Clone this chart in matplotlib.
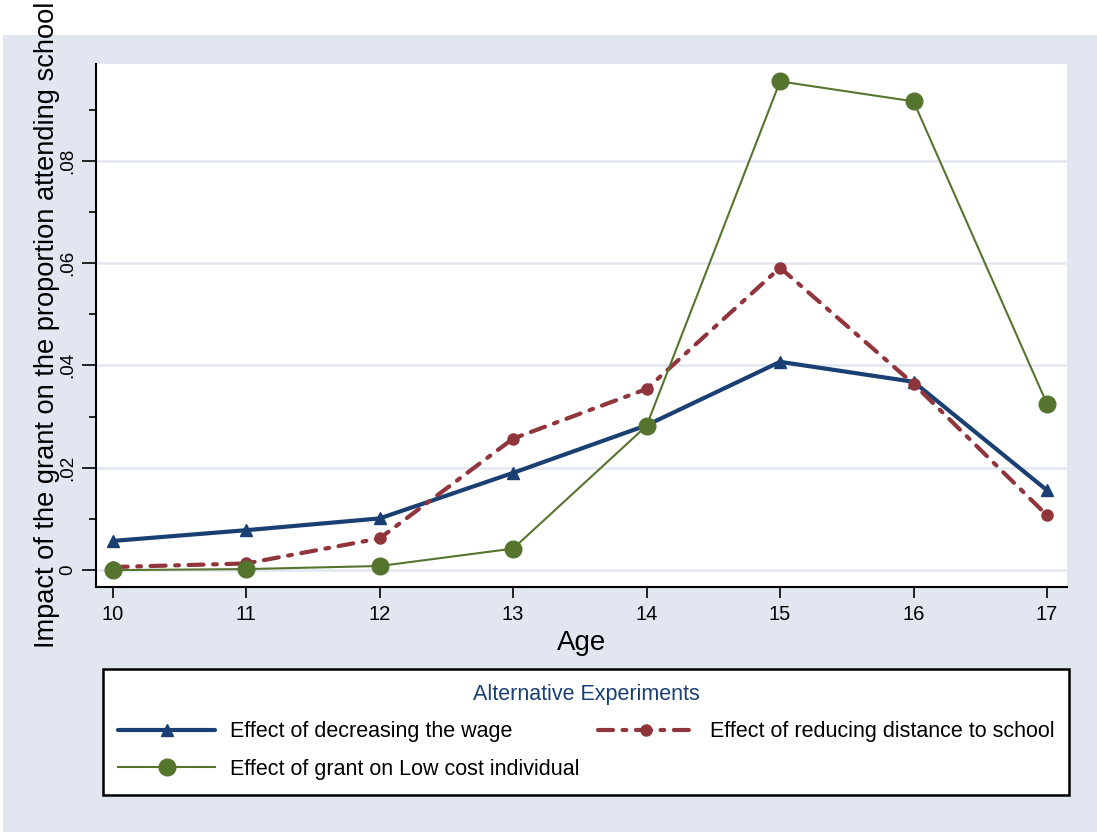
import matplotlib
matplotlib.use("Agg")
import matplotlib.pyplot as plt
from matplotlib.patches import Rectangle

plt.rcParams['font.family'] = ['Liberation Sans', 'DejaVu Sans']

ages = [10, 11, 12, 13, 14, 15, 16, 17]
wage = [0.0057, 0.0078, 0.0101, 0.0190, 0.0283, 0.0407, 0.0368, 0.0156]
distance = [0.0006, 0.0013, 0.0062, 0.0257, 0.0354, 0.0591, 0.0364, 0.0107]
lowcost = [0.0000, 0.0002, 0.0008, 0.0042, 0.0282, 0.0955, 0.0916, 0.0325]

yticks = [0, 0.02, 0.04, 0.06, 0.08]
ytick_labels = ["0", ".02", ".04", ".06", ".08"]
yminor = [0.01, 0.03, 0.05, 0.07, 0.09]

labels = ["Effect of decreasing the wage",
          "Effect of reducing distance to school",
          "Effect of grant on Low cost individual"]
legend_title = "Alternative Experiments"
xlabel = "Age"
ylabel = "Impact of the grant on the proportion attending school"

BG = "#e1e6f0"
NAVY = "#1a3f73"
MAROON = "#90353b"
GREEN = "#55752f"

W, H = 1097, 832
fig = plt.figure(figsize=(W / 100, H / 100), dpi=100)
fig.patch.set_facecolor("white")
fig.add_artist(Rectangle((3 / W, 0), 1, (H - 35) / H, transform=fig.transFigure,
                         facecolor=BG, edgecolor="none", zorder=-10))

ax = fig.add_axes([96 / W, (H - 587) / H, (1067 - 96) / W, (587 - 64) / H])
ax.set_facecolor("white")

l1, = ax.plot(ages, wage, color=NAVY, lw=3, marker="^", ms=8,
              solid_capstyle="round", zorder=4)
l2, = ax.plot(ages, distance, color=MAROON, lw=3, marker="o", ms=8,
              dashes=(3.6, 2.3, 0.9, 2.3), dash_capstyle="round", zorder=5)
l3, = ax.plot(ages, lowcost, color=GREEN, lw=1.5, marker="o", ms=12, zorder=6)

ax.set_xlim(9.875, 17.15)
ax.set_ylim(-0.0033, 0.0989)

for s in ["top", "right"]:
    ax.spines[s].set_visible(False)
for s in ["left", "bottom"]:
    ax.spines[s].set_linewidth(1.5)
    ax.spines[s].set_color("black")

ax.set_xticks(ages)
ax.set_xticklabels([str(a) for a in ages], fontsize=14.5)
ax.tick_params(axis="x", length=8, width=1.2, pad=5)

ax.set_yticks(yticks)
ax.set_yticklabels(ytick_labels, fontsize=13.5, rotation=90, va="center")
ax.set_yticks(yminor, minor=True)
ax.tick_params(axis="y", which="major", length=10, width=1.2, pad=4)
ax.tick_params(axis="y", which="minor", length=5, width=1.2)

ax.yaxis.grid(True, which="major", color=BG, lw=1.8, zorder=0)
ax.set_axisbelow(True)

ax.set_xlabel(xlabel, fontsize=20, labelpad=4)

fig.text(47 / W, (H - 648) / H, ylabel, rotation=90, ha="center", va="bottom",
         fontsize=19.6)

leg = fig.legend([l1, l3, l2], [labels[0], labels[2], labels[1]],
                 ncol=2, loc="upper left",
                 bbox_to_anchor=(103 / W, (H - 669) / H),
                 frameon=True, fancybox=False, shadow=False, framealpha=1,
                 fontsize=15.5, title=legend_title, title_fontsize=15.5,
                 handlelength=4.5, handletextpad=0.7, columnspacing=0.85,
                 labelspacing=0.76, borderpad=0.7, borderaxespad=0)
leg.get_title().set_color(NAVY)
frame = leg.get_frame()
frame.set_edgecolor("black")
frame.set_linewidth(1.8)
frame.set_facecolor("white")

fig.savefig("out.png", dpi=100, facecolor="white")
